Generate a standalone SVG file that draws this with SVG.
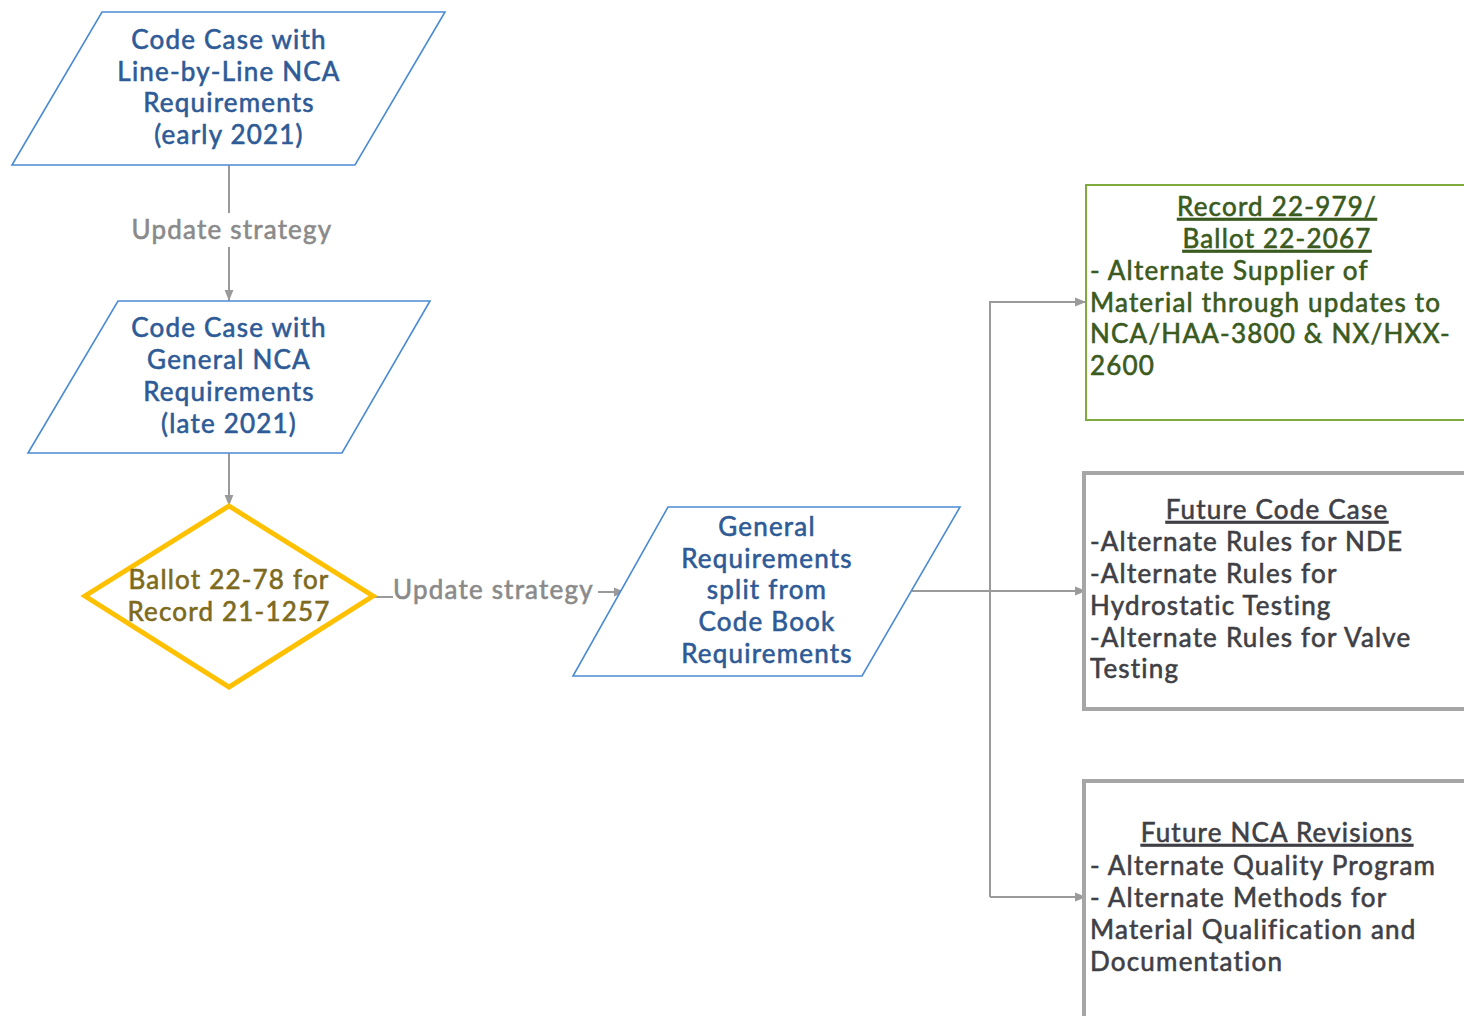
<svg xmlns="http://www.w3.org/2000/svg" width="1464" height="1016" viewBox="0 0 1464 1016">
<defs>
<style>
text{font-family:Lato,"Open Sans","Liberation Sans",sans-serif;font-size:26px;letter-spacing:1.2px;stroke-width:0.6}
.blue{fill:#2e5b96;stroke:#2e5b96;text-anchor:middle}
.para{fill:#fff;stroke:#4a8bd4;stroke-width:1.6}
.lbl{fill:#8a8a8a;stroke:#8a8a8a}
.gold{fill:#7d6a1c;stroke:#7d6a1c;text-anchor:middle}
.grn{fill:#3a5a20;stroke:#3a5a20}
.gry{fill:#3f3f46;stroke:#3f3f46}
.u{text-decoration:underline}
.mid{text-anchor:middle}
.conn{fill:none;stroke:#9a9a9a;stroke-width:2}
</style>
<marker id="ah" viewBox="0 0 10 10" refX="10" refY="5" markerWidth="11" markerHeight="11" orient="auto" markerUnits="userSpaceOnUse">
<path d="M0,1 L10,5 L0,9 z" fill="#9a9a9a"/>
</marker>
</defs>
<rect width="1464" height="1016" fill="#fff"/>
<g id="connectors">
<path class="conn" d="M229,165 V301" marker-end="url(#ah)"/>
<path class="conn" d="M229,453 V506" marker-end="url(#ah)"/>
<path class="conn" d="M373,597 H393"/>
<path class="conn" d="M598,592 H625" marker-end="url(#ah)"/>
<path class="conn" d="M912,591 H1086" marker-end="url(#ah)"/>
<path class="conn" d="M990,897 V302 H1086" marker-end="url(#ah)"/>
<path class="conn" d="M990,897 H1086" marker-end="url(#ah)"/>
<rect x="126" y="213" width="214" height="34" fill="#fff"/>
<text class="lbl mid" x="232" y="239">Update strategy</text>
<text class="lbl" x="393" y="599">Update strategy</text>
</g>
<g id="n1">
<polygon class="para" points="102,12 445,12 355,165 12,165"/>
<text class="blue" x="229" y="49">Code Case with</text>
<text class="blue" x="229" y="81">Line-by-Line NCA</text>
<text class="blue" x="229" y="112">Requirements</text>
<text class="blue" x="229" y="144">(early 2021)</text>
</g>
<g id="n2">
<polygon class="para" points="118,301 430,301 342,453 28,453"/>
<text class="blue" x="229" y="337">Code Case with</text>
<text class="blue" x="229" y="369">General NCA</text>
<text class="blue" x="229" y="401">Requirements</text>
<text class="blue" x="229" y="433">(late 2021)</text>
</g>
<g id="n3">
<polygon points="229,506 373,596 229,687 85,596" fill="#fff" stroke="#ffc000" stroke-width="5" stroke-linejoin="miter"/>
<text class="gold" x="229" y="589">Ballot 22-78 for</text>
<text class="gold" x="229" y="621">Record 21-1257</text>
</g>
<g id="n4">
<polygon class="para" points="668,507 960,507 862,676 573,676"/>
<text class="blue" x="767" y="536">General</text>
<text class="blue" x="767" y="568">Requirements</text>
<text class="blue" x="767" y="599">split from</text>
<text class="blue" x="767" y="631">Code Book</text>
<text class="blue" x="767" y="663">Requirements</text>
</g>
<g id="n5">
<rect x="1086" y="185" width="400" height="235" fill="#fff" stroke="#7fab3e" stroke-width="2"/>
<text class="grn mid u" x="1277" y="216">Record 22-979/</text>
<text class="grn mid u" x="1277" y="248">Ballot 22-2067</text>
<text class="grn" x="1090" y="280">- Alternate Supplier of</text>
<text class="grn" x="1090" y="312">Material through updates to</text>
<text class="grn" x="1090" y="343">NCA/HAA-3800 &amp; NX/HXX-</text>
<text class="grn" x="1090" y="375">2600</text>
</g>
<g id="n6">
<rect x="1084" y="473" width="400" height="236" fill="#fff" stroke="#a6a6a6" stroke-width="4"/>
<text class="gry mid u" x="1277" y="519">Future Code Case</text>
<text class="gry" x="1090" y="551">-Alternate Rules for NDE</text>
<text class="gry" x="1090" y="583">-Alternate Rules for</text>
<text class="gry" x="1090" y="615">Hydrostatic Testing</text>
<text class="gry" x="1090" y="647">-Alternate Rules for Valve</text>
<text class="gry" x="1090" y="678">Testing</text>
</g>
<g id="n7">
<rect x="1084" y="781" width="400" height="260" fill="#fff" stroke="#a6a6a6" stroke-width="4"/>
<text class="gry mid u" x="1277" y="842">Future NCA Revisions</text>
<text class="gry" x="1090" y="875">- Alternate Quality Program</text>
<text class="gry" x="1090" y="907">- Alternate Methods for</text>
<text class="gry" x="1090" y="939">Material Qualification and</text>
<text class="gry" x="1090" y="971">Documentation</text>
</g>
</svg>
